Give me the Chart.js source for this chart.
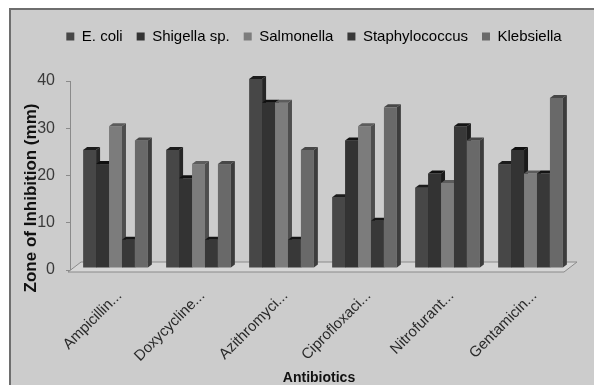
<!DOCTYPE html>
<html>
<head>
<meta charset="utf-8">
<script src="https://cdn.jsdelivr.net/npm/chart.js@4/dist/chart.umd.min.js"></script>
<style>
  html, body { margin: 0; padding: 0; background: #fff; }
  #frame {
    position: absolute; left: 9px; top: 8px; width: 600px; height: 400px;
    background: #cccccc; border-left: 2px solid #6e6e6e; border-top: 2px solid #6e6e6e;
  }
  #wrap { position: absolute; left: 0; top: 0; width: 594px; height: 385px; }
</style>
</head>
<body>
<div id="frame"></div>
<div id="wrap"><canvas id="chart" width="594" height="385"></canvas></div>
<script>
// ----------------------------------------------------------
// data
const antibiotics = ["Ampicillin...", "Doxycycline...", "Azithromyci...", "Ciprofloxaci...", "Nitrofurant...", "Gentamicin..."];
const seriesNames = ["E. coli", "Shigella sp.", "Salmonella", "Staphylococcus", "Klebsiella"];
const ecoli = [25, 25, 40, 15, 17, 22];
const shigella = [22, 19, 35, 27, 20, 25];
const salmonella = [30, 22, 35, 30, 18, 20];
const staph = [6, 6, 6, 10, 30, 20];
const klebsiella = [27, 22, 25, 34, 27, 36];
const yTicks = [0, 10, 20, 30, 40];
const yTitle = "Zone of Inhibition (mm)";

// ----------------------------------------------------------
// grey shades: front, top, side
const frontColors = ["#474747", "#333333", "#7c7c7c", "#383838", "#696969"];
const topColors = ["#1c1c1c", "#101010", "#5c5c5c", "#141414", "#474747"];
const sideColors = ["#262626", "#1a1a1a", "#4e4e4e", "#1e1e1e", "#3c3c3c"];
const FONT = "'Liberation Sans', Arial, sans-serif";

// ----------------------------------------------------------
// legend: extra room below it, shifted to the right
const legendTweak = {
  id: "legendTweak",
  beforeInit(chart) {
    const fit = chart.legend.fit;
    chart.legend.fit = function () {
      fit.call(this);
      this.height += 27;
    };
  },
  afterLayout(chart) {
    chart.legend.left += 30;
    chart.legend.right += 30;
  },
};

// ----------------------------------------------------------
// y title drawn by hand, it sits lower than the axis middle
const yTitlePlugin = {
  id: "yTitlePlugin",
  afterDraw(chart) {
    const ctx = chart.ctx;
    ctx.save();
    ctx.translate(31, 198);
    ctx.rotate(-Math.PI / 2);
    ctx.font = "bold 17px " + FONT;
    ctx.fillStyle = "#111";
    ctx.textAlign = "center";
    ctx.textBaseline = "middle";
    ctx.fillText(yTitle, 0, 0);
    ctx.restore();
  },
};

// ----------------------------------------------------------
// floor + 3d faces for each bar
const bar3d = {
  id: "bar3d",
  beforeDatasetsDraw(chart) {
    const ctx = chart.ctx;
    const area = chart.chartArea;
    const y0 = chart.scales.y.getPixelForValue(0);
    const fl = area.left - 2, fr = area.right - 4, fy = y0 + 2;
    ctx.save();
    ctx.beginPath();
    ctx.moveTo(fl, fy);
    ctx.lineTo(fl + 13, fy - 10);
    ctx.lineTo(fr + 13, fy - 10);
    ctx.lineTo(fr, fy);
    ctx.closePath();
    ctx.fillStyle = "#d6d6d6";
    ctx.fill();
    ctx.strokeStyle = "#8a8a8a";
    ctx.lineWidth = 1;
    ctx.stroke();
    ctx.restore();
  },
  afterDatasetsDraw(chart) {
    const ctx = chart.ctx;
    const dx = 4, dy = 3, shiftX = 4, shiftY = -2;
    ctx.save();
    chart.data.datasets.forEach((ds, i) => {
      const meta = chart.getDatasetMeta(i);
      meta.data.forEach((bar) => {
        const l = bar.x - bar.width / 2 + shiftX;
        const r = bar.x + bar.width / 2 + shiftX;
        const t = bar.y + shiftY;
        const b = bar.base + shiftY;
        ctx.fillStyle = frontColors[i];
        ctx.fillRect(l, t, r - l, b - t);
        ctx.fillStyle = topColors[i];
        ctx.beginPath();
        ctx.moveTo(l, t);
        ctx.lineTo(l + dx, t - dy);
        ctx.lineTo(r + dx, t - dy);
        ctx.lineTo(r, t);
        ctx.closePath();
        ctx.fill();
        ctx.fillStyle = sideColors[i];
        ctx.beginPath();
        ctx.moveTo(r, t);
        ctx.lineTo(r + dx, t - dy);
        ctx.lineTo(r + dx, b - dy);
        ctx.lineTo(r, b);
        ctx.closePath();
        ctx.fill();
      });
    });
    ctx.restore();
  },
};

// ----------------------------------------------------------
const seriesValues = [ecoli, shigella, salmonella, staph, klebsiella];
const datasets = seriesNames.map((name, i) => ({
  label: name,
  data: seriesValues[i],
  backgroundColor: "rgba(0,0,0,0)",
  borderWidth: 0,
  categoryPercentage: 0.78,
  barPercentage: 1,
}));

new Chart(document.getElementById("chart"), {
  type: "bar",
  data: { labels: antibiotics, datasets: datasets },
  options: {
    responsive: false,
    animation: false,
    layout: { padding: { top: 15, right: 26, bottom: 0, left: 0 } },
    plugins: {
      tooltip: { enabled: false },
      legend: {
        labels: {
          boxWidth: 8,
          boxHeight: 8,
          padding: 14,
          color: "#1a1a1a",
          font: { family: FONT, size: 15 },
          generateLabels(chart) {
            return seriesNames.map((name, i) => ({
              text: name,
              fillStyle: frontColors[i],
              strokeStyle: frontColors[i],
              lineWidth: 0,
              datasetIndex: i,
            }));
          },
        },
      },
    },
    scales: {
      x: {
        grid: { display: false },
        border: { display: false },
        ticks: {
          autoSkip: false,
          maxRotation: 45,
          minRotation: 45,
          padding: 9,
          labelOffset: 8,
          color: "#2a2a2a",
          font: { family: FONT, size: 15 },
        },
        title: {
          display: true,
          text: "Antibiotics",
          color: "#111",
          padding: { top: 0, bottom: 0 },
          font: { family: FONT, size: 14, weight: "bold", lineHeight: 1 },
        },
        afterFit(scale) { scale.height = 115; },
      },
      y: {
        min: 0,
        max: 40,
        afterBuildTicks(scale) { scale.ticks = yTicks.map((v) => ({ value: v })); },
        grid: { drawOnChartArea: false, drawTicks: true, tickLength: 4, color: "#8a8a8a" },
        border: { display: true, color: "#8a8a8a", width: 1 },
        ticks: {
          padding: 11,
          color: "#3a3a3a",
          font: { family: FONT, size: 16 },
        },
        title: { display: false },
        afterFit(scale) { scale.width = 70; },
      },
    },
  },
  plugins: [legendTweak, yTitlePlugin, bar3d],
});
</script>
</body>
</html>
